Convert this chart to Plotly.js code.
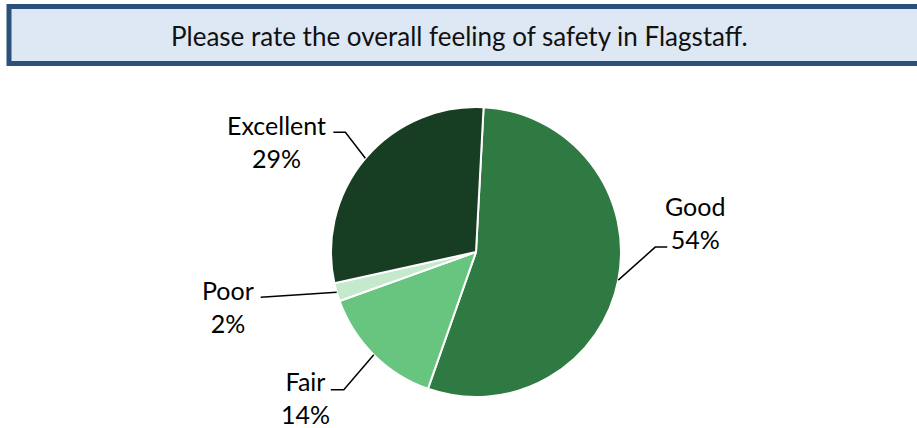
<!DOCTYPE html>
<html>
<head>
<meta charset="utf-8">
<script src="https://cdn.plot.ly/plotly-3.0.1.min.js"></script>
<style>html,body{margin:0;padding:0;background:#fff;}#chart{width:917px;height:428px;}</style>
</head>
<body>
<div id="chart"></div>
<script>
// ---- data ----
const categories = ["Good", "Fair", "Poor", "Excellent"];
const percents = [54, 14, 2, 29];
const colors = ["#2F7A42", "#68C580", "#C5E9CD", "#173D22"];
const chartTitle = "Please rate the overall feeling of safety in Flagstaff.";

// ---- layout config (pixels) ----
const W = 917, H = 428;
const cx = 476, cy = 252, R = 145;
const rotationDeg = 3;
// leader-line / label placement relative to the slice edge midpoint
const labelPlacement = [
  {elbow: [37, -33], endDx: 12, text: [77, -58]},   // Good
  {elbow: [-30, 35], endDx: -13, text: [-68, 43]},  // Fair
  {elbow: [-76, 5], endDx: 0, text: [-109, 14]},    // Poor
  {elbow: [-20, -26], endDx: -12, text: [-89, -17]} // Excellent
];
const font = "Lato, 'Gill Sans', 'Noto Sans', sans-serif";

const px = x => x / W;
const py = y => 1 - y / H;

const total = percents.reduce((a, b) => a + b, 0);
const shapes = [];
const annotations = [];

// Title box
shapes.push({type: "rect", xref: "paper", yref: "paper",
  x0: px(9), x1: px(W + 10), y0: py(63.5), y1: py(6.5),
  fillcolor: "#DEE8F4", line: {color: "#2A5179", width: 5}, layer: "below"});
annotations.push({xref: "paper", yref: "paper", x: px(459), y: py(36),
  xanchor: "center", yanchor: "middle", showarrow: false,
  text: chartTitle, font: {family: font, size: 26, color: "#111"}});

// Labels with leader lines computed from slice angles
let cum = 0;
categories.forEach((c, i) => {
  const frac = percents[i] / total;
  const mid = (rotationDeg + (cum + frac / 2) * 360) * Math.PI / 180;
  cum += frac;
  const ax = cx + R * Math.sin(mid);
  const ay = cy - R * Math.cos(mid);
  const p = labelPlacement[i];
  const ex = ax + p.elbow[0], ey = ay + p.elbow[1];
  const fx = ex + p.endDx;
  shapes.push({type: "path", xref: "paper", yref: "paper",
    path: `M ${px(ax)} ${py(ay)} L ${px(ex)} ${py(ey)} L ${px(fx)} ${py(ey)}`,
    line: {color: "#000", width: 1.5}});
  annotations.push({xref: "paper", yref: "paper",
    x: px(ax + p.text[0]), y: py(ay + p.text[1]),
    xanchor: "center", yanchor: "middle", showarrow: false, align: "center",
    text: c + "<br>" + percents[i] + "%",
    font: {family: font, size: 25, color: "#000"}});
});

const trace = {
  type: "pie",
  labels: categories,
  values: percents,
  sort: false,
  direction: "clockwise",
  rotation: rotationDeg,
  marker: {colors: colors, line: {color: "#fff", width: 2}},
  textinfo: "none",
  hoverinfo: "label+percent",
  showlegend: false,
  domain: {x: [px(cx - R), px(cx + R)], y: [py(cy + R), py(cy - R)]}
};

Plotly.newPlot("chart", [trace], {
  width: W, height: H,
  margin: {l: 0, r: 0, t: 0, b: 0},
  paper_bgcolor: "#fff",
  showlegend: false,
  shapes: shapes,
  annotations: annotations
}, {displayModeBar: false, staticPlot: true});
</script>
</body>
</html>
